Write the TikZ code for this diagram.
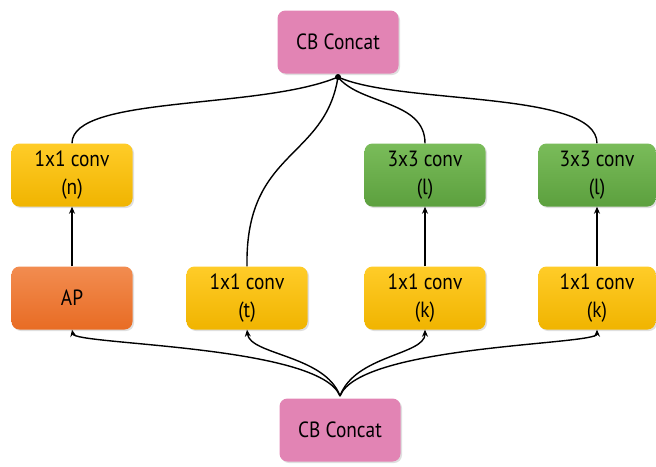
\documentclass[tikz,border=0pt]{standalone}
\usepackage{fontspec}
\setmainfont[FakeStretch=0.88]{PT Sans}
\usetikzlibrary{arrows.meta,shadows}
\definecolor{pinkc}{RGB}{226,132,180}
\definecolor{yelT}{RGB}{255,204,40}
\definecolor{yelB}{RGB}{240,180,0}
\definecolor{orT}{RGB}{242,140,80}
\definecolor{orB}{RGB}{232,108,36}
\definecolor{grT}{RGB}{122,188,90}
\definecolor{grB}{RGB}{92,160,62}
\tikzset{
  box/.style={rounded corners=8pt, minimum width=121pt, minimum height=63pt, align=center,
    font=\fontsize{22}{28}\selectfont, text=black,
    drop shadow={opacity=0.25, shadow xshift=1.5pt, shadow yshift=-1.5pt}},
  pinkbox/.style={box, fill=pinkc},
  yelbox/.style={box, top color=yelT, bottom color=yelB},
  orbox/.style={box, top color=orT, bottom color=orB},
  grbox/.style={box, top color=grT, bottom color=grB},
  conn/.style={line width=1.4pt, black},
  arr/.style={conn, -{Stealth[length=7pt,width=6pt]}}
}
\begin{document}
\begin{tikzpicture}[x=1pt,y=-1pt]
\useasboundingbox (0,0) rectangle (656,466);
\node[pinkbox] (top) at (338,42) {CB Concat};
\node[pinkbox] (bot) at (340,430) {CB Concat};
\node[yelbox] (n) at (72,175) {1x1 conv\\(n)};
\node[grbox] (l1) at (425,175) {3x3 conv\\(l)};
\node[grbox, minimum width=117pt] (l2) at (597,175) {3x3 conv\\(l)};
\node[orbox] (ap) at (72,298) {AP};
\node[yelbox] (t) at (247,298) {1x1 conv\\(t)};
\node[yelbox] (k1) at (425,298) {1x1 conv\\(k)};
\node[yelbox, minimum width=117pt] (k2) at (597,298) {1x1 conv\\(k)};
\coordinate (J1) at (338,77);
\coordinate (J2) at (340,396);
% vertical arrows
\draw[arr] (ap.north) -- (n.south);
\draw[arr] (k1.north) -- (l1.south);
\draw[arr] (k2.north) -- (l2.south);
% top merge
\draw[conn] (n.north) .. controls (72,95) and (260,110) .. (J1);
\draw[conn] (t.north) .. controls (245,150) and (325,160) .. (J1);
\draw[conn] (l1.north) .. controls (425,100) and (360,105) .. (J1);
\draw[conn] (l2.north) .. controls (597,90) and (400,105) .. (J1);
\fill (J1) circle (3pt);
% bottom split
\draw[arr] (J2) .. controls (320,345) and (75,345) .. (ap.south);
\draw[arr] (J2) .. controls (325,355) and (250,355) .. (t.south);
\draw[arr] (J2) .. controls (355,355) and (425,355) .. (k1.south);
\draw[arr] (J2) .. controls (360,345) and (597,345) .. (k2.south);
\end{tikzpicture}
\end{document}
